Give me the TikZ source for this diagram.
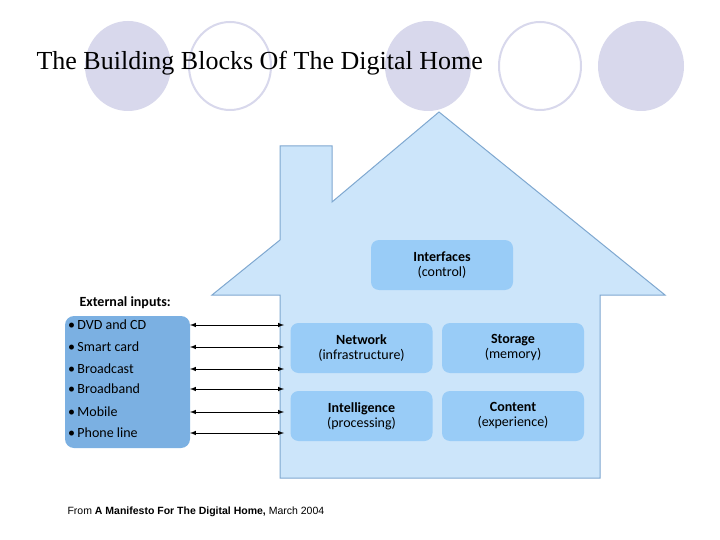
\documentclass[tikz,border=0pt]{standalone}
\usepackage{fontspec}
\setmainfont{Liberation Serif}
\newfontfamily\uisans{Carlito}
\newfontfamily\arialf{Liberation Sans}
\definecolor{lav}{HTML}{D8D8EC}
\definecolor{housefill}{HTML}{CCE5FA}
\definecolor{housedraw}{HTML}{7FA8D0}
\definecolor{boxfill}{HTML}{99CCF7}
\definecolor{inbox}{HTML}{7BB0E2}
\begin{document}
\begin{tikzpicture}[x=1pt,y=-1pt,
  blk/.style={fill=boxfill,rounded corners=8pt,minimum width=142pt,minimum height=50pt,align=center,font=\uisans\fontsize{14}{15}\selectfont,inner sep=0pt},
  io/.style={<->,>=latex,line width=1pt}]
\useasboundingbox (0,0) rectangle (720,540);
\fill[white] (0,0) rectangle (720,540);
\foreach \cx in {128,428,641} \fill[lav] (\cx,66) ellipse (43 and 45);
\foreach \cx in {230,540} \draw[lav,line width=2pt] (\cx,66) ellipse (41 and 44);
\node[anchor=base west,font=\fontsize{26}{28}\selectfont] (title) at (33,70) {The Building Blocks Of The Digital Home};
\draw[housedraw,fill=housefill,line width=1pt] (280,146) -- (332,146) -- (332,202) -- (439,112) -- (665,295) -- (600,295) -- (600,478) -- (280,478) -- (280,295) -- (212,295) -- (280,240) -- cycle;
\node[blk] (int) at (442,265) {\textbf{Interfaces}\\(control)};
\node[blk] (net) at (361.5,348) {\textbf{Network}\\(infrastructure)};
\node[blk] (sto) at (513,348) {\textbf{Storage}\\(memory)};
\node[blk] (intel) at (361.5,416) {\textbf{Intelligence}\\(processing)};
\node[blk] (con) at (513,416) {\textbf{Content}\\(experience)};
\node[anchor=base west,font=\uisans\bfseries\fontsize{14}{15}\selectfont] (ext) at (76,306) {External inputs:};
\fill[inbox,rounded corners=9pt] (65,316) rectangle (190,448);
\coordinate (L) at (190,0); \coordinate (R) at (284,0);
\foreach \yy/\t [count=\i] in {325/DVD and CD,347/Smart card,369/Broadcast,389/Broadband,412/Mobile,433/Phone line}{
  \node[anchor=west,font=\uisans\fontsize{14}{15}\selectfont,inner sep=0pt] (in\i) at (68,\yy) {\textbullet\,\t};
  \coordinate (a\i) at (190,\yy); \coordinate (b\i) at (284,\yy);
  \draw[io] (a\i) -- (b\i);
}
\node[anchor=base west,font=\arialf\fontsize{10.5}{12}\selectfont] (cap) at (64,514) {From \textbf{A Manifesto For The Digital Home,} March 2004};
\end{tikzpicture}
\end{document}
